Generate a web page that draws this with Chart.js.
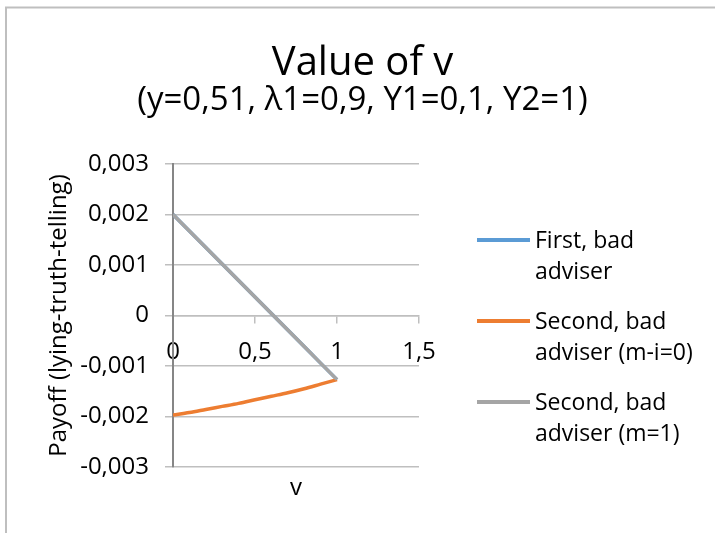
<!DOCTYPE html>
<html>
<head>
<meta charset="utf-8">
<script src="https://cdn.jsdelivr.net/npm/chart.js@4/dist/chart.umd.min.js"></script>
<style>
  body { margin: 0; background: #fff; }
  canvas { display: block; }
</style>
</head>
<body>
<canvas id="chartOne" width="715" height="533"></canvas>
<script>
// values
const vValues = [0, 0.1, 0.2, 0.3, 0.4, 0.5, 0.6, 0.7, 0.8, 0.9, 1];
const firstBad = [0.002, 0.001673, 0.001346, 0.001019, 0.000692, 0.000365, 0.000038, -0.000289, -0.000616, -0.000943, -0.00127];
const secondBadMi0 = [-0.00197, -0.00192, -0.00186, -0.0018, -0.00174, -0.00167, -0.0016, -0.00153, -0.00145, -0.00136, -0.00127];
const secondBadM1 = [0.002, 0.001673, 0.001346, 0.001019, 0.000692, 0.000365, 0.000038, -0.000289, -0.000616, -0.000943, -0.00127];
const seriesNames = [['First, bad', 'adviser'], ['Second, bad', 'adviser (m-i=0)'], ['Second, bad', 'adviser (m=1)']];
const seriesColors = ['#5b9bd5', '#ed7d31', '#a5a5a5'];
const xTicks = [0, 0.5, 1, 1.5];
const yTicks = [-0.003, -0.002, -0.001, 0, 0.001, 0.002, 0.003];

const fontName = "'Open Sans', sans-serif";

function toPoints(ys) {
    let pts = [];
    for (let i in vValues) {
        pts.push({ x: vValues[i], y: ys[i] });
    }
    return pts;
}

function commaNum(val) {
    if (Math.abs(val) < 1e-9) return '0';
    let s = String(Math.round(val * 1000) / 1000);
    return s.replace('.', ',');
}

// border of the chart area, legend and the x title "v"
const extras = {
    id: 'extras',
    afterDraw(chart) {
        let ctx = chart.ctx;
        let area = chart.chartArea;
        ctx.save();
        ctx.strokeStyle = '#bfbfbf';
        ctx.lineWidth = 2;
        ctx.beginPath();
        ctx.moveTo(6, 533);
        ctx.lineTo(6, 7.5);
        ctx.lineTo(715, 7.5);
        ctx.stroke();

        ctx.fillStyle = '#000';
        ctx.font = '24px ' + fontName;
        ctx.textAlign = 'center';
        ctx.textBaseline = 'middle';
        ctx.fillText('v', (area.left + area.right) / 2, 488);

        ctx.font = '23px ' + fontName;
        ctx.textAlign = 'left';
        let startY = 240;
        for (let i in seriesNames) {
            let y = startY + i * 81;
            ctx.strokeStyle = seriesColors[i];
            ctx.lineWidth = 4;
            ctx.beginPath();
            ctx.moveTo(477, y);
            ctx.lineTo(530, y);
            ctx.stroke();
            ctx.fillStyle = '#000';
            ctx.fillText(seriesNames[i][0], 535, y + 1);
            ctx.fillText(seriesNames[i][1], 535, y + 32);
        }
        ctx.restore();
    }
};

let chartCtx = document.getElementById('chartOne').getContext('2d');

let oneChart = new Chart(chartCtx, {
    type: 'line',
    data: {
        datasets: [{
            label: seriesNames[0].join(' '),
            data: toPoints(firstBad),
            borderColor: seriesColors[0],
            borderWidth: 3.5,
            pointRadius: 0,
            order: 2
        }, {
            label: seriesNames[1].join(' '),
            data: toPoints(secondBadMi0),
            borderColor: seriesColors[1],
            borderWidth: 3.5,
            pointRadius: 0,
            cubicInterpolationMode: 'monotone',
            order: 1
        }, {
            label: seriesNames[2].join(' '),
            data: toPoints(secondBadM1),
            borderColor: seriesColors[2],
            borderWidth: 3.5,
            pointRadius: 0,
            order: 0
        }]
    },
    options: {
        responsive: false,
        animation: false,
        layout: {
            padding: { top: 0, left: 10, right: 0, bottom: 66 }
        },
        plugins: {
            legend: { display: false },
            tooltip: { enabled: false },
            title: {
                display: true,
                text: 'Value of v',
                color: '#000',
                font: { family: fontName, size: 40, weight: 'normal', lineHeight: 1 },
                padding: { top: 44, bottom: 0 }
            },
            subtitle: {
                display: true,
                text: '(y=0,51, λ1=0,9, Y1=0,1, Y2=1)',
                color: '#000',
                font: { family: fontName, size: 33, weight: 'normal', lineHeight: 1 },
                padding: { top: 0, bottom: 47 }
            }
        },
        scales: {
            x: {
                type: 'linear',
                position: { y: 0 },
                min: 0,
                max: 1.5,
                afterBuildTicks: function(scale) {
                    scale.ticks = xTicks.map(v => ({ value: v }));
                },
                ticks: {
                    color: '#000',
                    font: { family: fontName, size: 24 },
                    padding: 15,
                    maxRotation: 0,
                    callback: function(val) { return commaNum(val); }
                },
                grid: {
                    drawOnChartArea: false,
                    drawTicks: true,
                    tickLength: 7,
                    color: '#bfbfbf',
                    lineWidth: 1.5
                },
                border: { color: '#bfbfbf', width: 1.5 }
            },
            y: {
                type: 'linear',
                min: -0.003,
                max: 0.003,
                afterBuildTicks: function(scale) {
                    scale.ticks = yTicks.map(v => ({ value: v }));
                },
                afterFit: function(scale) {
                    scale.width = 163;
                },
                ticks: {
                    color: '#000',
                    font: { family: fontName, size: 24 },
                    padding: 16,
                    callback: function(val) { return commaNum(val); }
                },
                grid: {
                    color: '#bfbfbf',
                    lineWidth: 1.5,
                    tickLength: 8
                },
                border: { color: '#868686', width: 2 },
                title: {
                    display: true,
                    text: 'Payoff (lying-truth-telling)',
                    color: '#000',
                    font: { family: fontName, size: 24 },
                    padding: { top: 35, bottom: 0 }
                }
            },
            // empty axis that keeps room for the legend
            legendRoom: {
                type: 'linear',
                position: 'right',
                display: true,
                ticks: { display: false },
                grid: { display: false },
                border: { display: false },
                afterFit: function(scale) {
                    scale.width = 296;
                }
            }
        }
    },
    plugins: [extras]
});
</script>
</body>
</html>
